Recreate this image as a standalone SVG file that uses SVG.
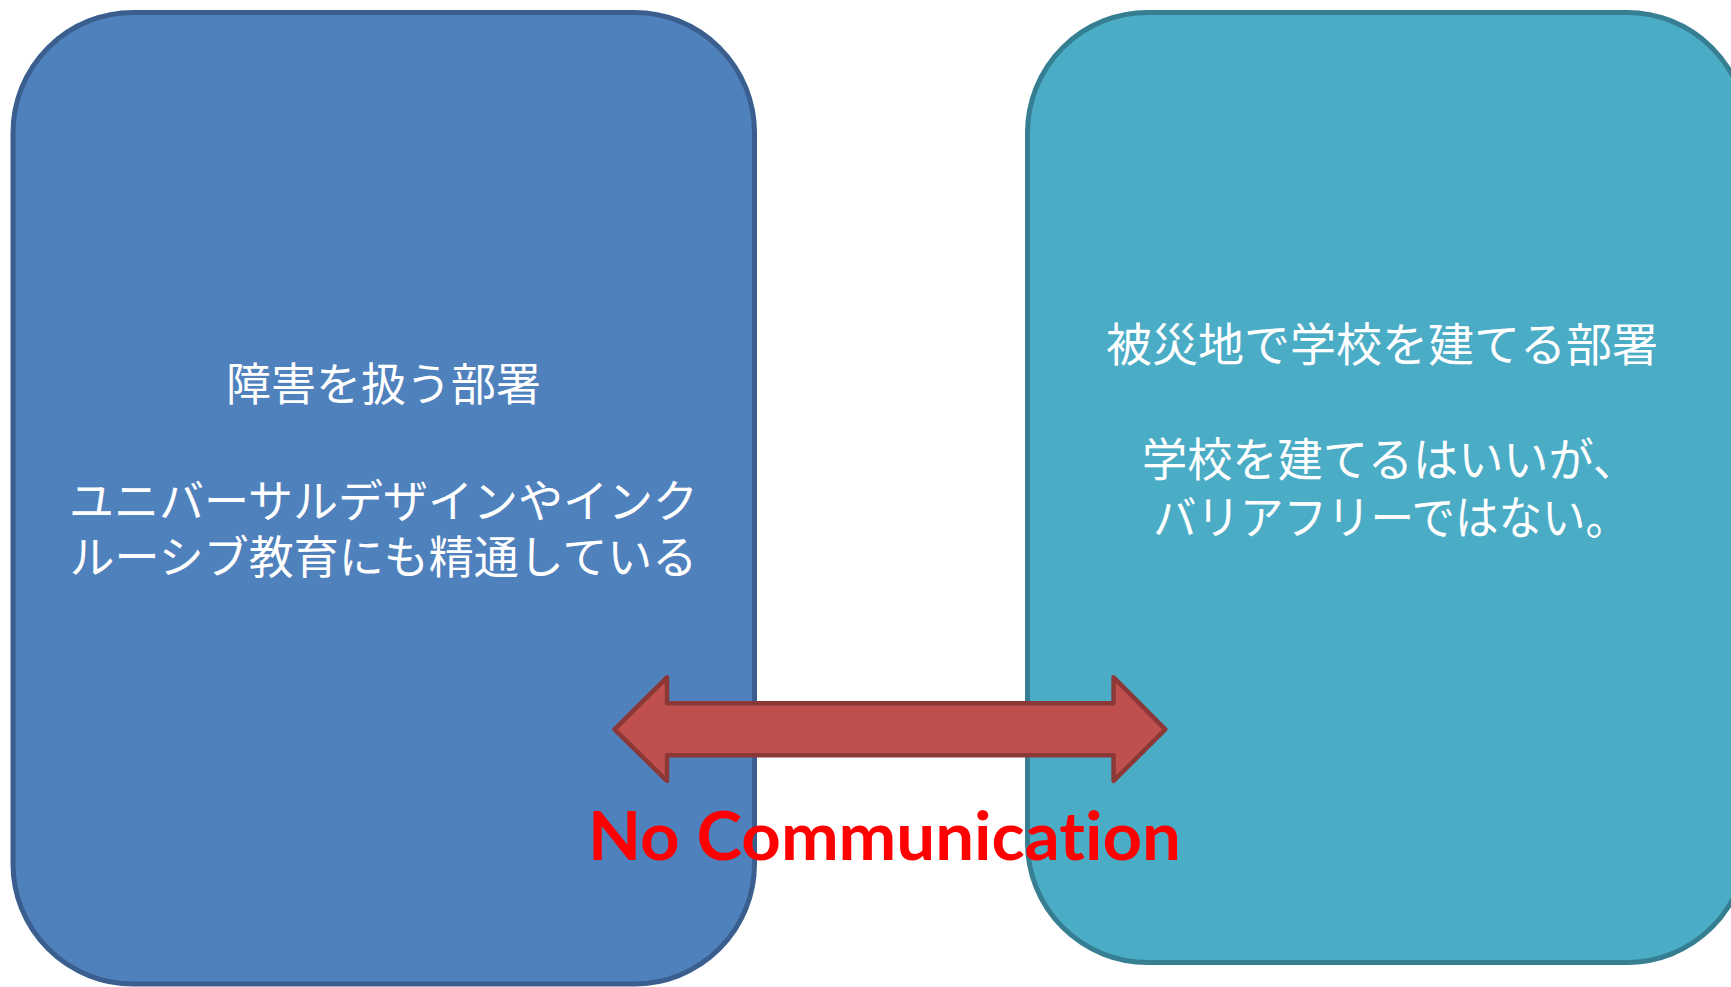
<svg xmlns="http://www.w3.org/2000/svg" width="1731" height="987" viewBox="0 0 1731 987">
<style>
.jp{font-family:"Noto Sans CJK JP","Noto Sans",sans-serif;fill:#ffffff;text-anchor:middle}
.l{font-size:45px}
.r{font-size:46px}
.nc{font-family:Lato,"Liberation Sans",sans-serif;font-weight:bold;font-size:67px;fill:#ff0000;text-anchor:middle;font-variant-ligatures:none}
</style>
<rect width="1731" height="987" fill="#ffffff"/>
<g id="node-left">
<rect x="13" y="12.5" width="741.5" height="971.5" rx="120" ry="120" fill="#4f81bd" stroke="#3a5f8e" stroke-width="5"/>
<text class="jp l" x="383.5" y="401">障害を扱う部署</text>
<text class="jp l" x="383.5" y="518">ユニバーサルデザインやインク</text>
<text class="jp l" x="383.5" y="574">ルーシブ教育にも精通している</text>
</g>
<g id="node-right">
<rect x="1027.5" y="12.5" width="719.5" height="950" rx="120" ry="120" fill="#4bacc6" stroke="#367e92" stroke-width="5"/>
<text class="jp r" x="1382" y="361">被災地で学校を建てる部署</text>
<text class="jp r" x="1390" y="476" textLength="496" lengthAdjust="spacingAndGlyphs">学校を建てるはいいが、</text>
<text class="jp r" x="1391" y="534" textLength="476" lengthAdjust="spacingAndGlyphs">バリアフリーではない。</text>
</g>
<g id="connectors">
<polygon points="614.5,729.3 667,677.3 667,703.3 1113.6,703.3 1113.6,677.3 1165.3,729.3 1113.6,781 1113.6,755.3 667,755.3 667,781" fill="#c0504d" stroke="#8c3836" stroke-width="4.5" stroke-linejoin="round"/>
<text class="nc" x="884.5" y="860" textLength="593" lengthAdjust="spacingAndGlyphs">No Communication</text>
</g>
</svg>
